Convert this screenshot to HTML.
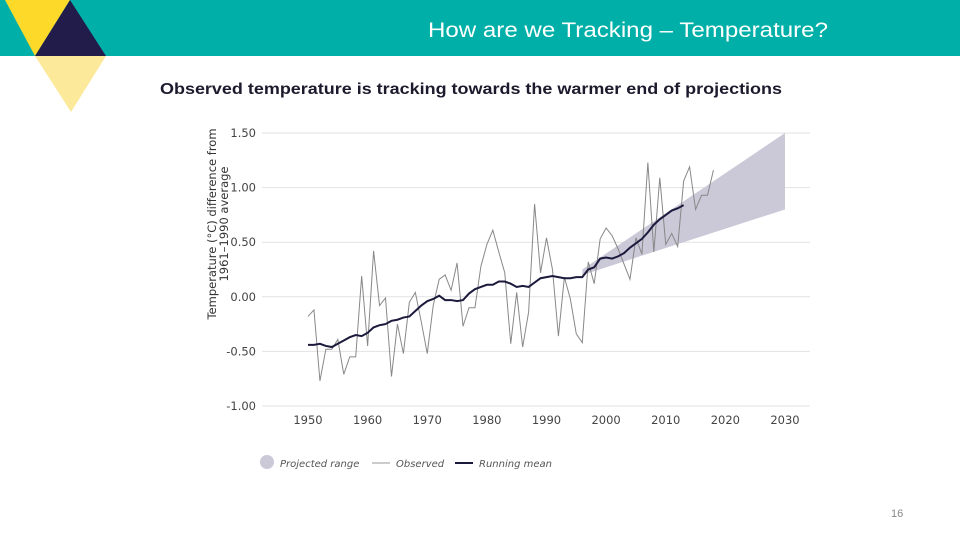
<!DOCTYPE html>
<html><head><meta charset="utf-8"><style>
body{margin:0;width:960px;height:540px;overflow:hidden;background:#fff;font-family:"Liberation Sans",sans-serif;position:relative}
.abs{position:absolute}
</style></head><body>
<svg class="abs" style="left:0;top:0" width="960" height="120">
<rect x="0" y="0" width="960" height="56" fill="#00b0a8"/>
<polygon points="5,0 70,0 35,56" fill="#fdd92a"/>
<polygon points="70,0 106,56 35,56" fill="#221c4a"/>
<polygon points="35,56 106,56 71,112" fill="#fde99a"/>
<text x="428" y="37" fill="#fff" font-size="21" textLength="400" lengthAdjust="spacingAndGlyphs" font-family="Liberation Sans, sans-serif">How are we Tracking – Temperature?</text>
<text x="160" y="94" fill="#1c1a2c" font-size="16" font-weight="bold" textLength="622" lengthAdjust="spacingAndGlyphs" font-family="Liberation Sans, sans-serif">Observed temperature is tracking towards the warmer end of projections</text>
</svg>
<svg id="chart" class="abs" style="left:0;top:120" width="960" height="360"></svg>
<div class="abs" style="left:891px;top:508px;font-size:11px;color:#888">16</div>
<script>
const yTicks=[1.5,1.0,0.5,0.0,-0.5,-1.0];
const yTickLabels=["1.50","1.00","0.50","0.00","-0.50","-1.00"];
const xTicks=[1950,1960,1970,1980,1990,2000,2010,2020,2030];
const obsStart=1950;
const observed=[-0.18,-0.12,-0.77,-0.48,-0.48,-0.39,-0.71,-0.55,-0.55,0.19,-0.45,0.42,-0.08,-0.01,-0.73,-0.25,-0.52,-0.05,0.04,-0.23,-0.52,-0.08,0.16,0.20,0.06,0.31,-0.27,-0.10,-0.10,0.28,0.48,0.61,0.41,0.22,-0.43,0.04,-0.46,-0.14,0.85,0.22,0.54,0.25,-0.36,0.18,-0.02,-0.34,-0.42,0.32,0.12,0.53,0.63,0.56,0.44,0.30,0.16,0.54,0.39,1.23,0.41,1.09,0.48,0.58,0.46,1.06,1.19,0.80,0.93,0.93,1.16];
const runningMean=[-0.44,-0.44,-0.43,-0.45,-0.46,-0.43,-0.40,-0.37,-0.35,-0.36,-0.33,-0.28,-0.26,-0.25,-0.22,-0.21,-0.19,-0.18,-0.13,-0.08,-0.04,-0.02,0.01,-0.03,-0.03,-0.04,-0.03,0.03,0.07,0.09,0.11,0.11,0.14,0.14,0.12,0.09,0.10,0.09,0.13,0.17,0.18,0.19,0.18,0.17,0.17,0.18,0.18,0.25,0.27,0.35,0.36,0.35,0.37,0.40,0.45,0.49,0.53,0.59,0.66,0.71,0.75,0.79,0.81,0.84];
const projYears=[1996,2030];
const projUpper=[0.25,1.50];
const projLower=[0.20,0.80];

const svg=document.getElementById('chart');
const NS='http://www.w3.org/2000/svg';
const x0=308,x1=785,y0=13,y1=286;
const xs=v=>x0+(v-1950)*(x1-x0)/80;
const ys=v=>y0+(1.5-v)*(y1-y0)/2.5;
function mk(tag,attrs){const e=document.createElementNS(NS,tag);for(const k in attrs)e.setAttribute(k,attrs[k]);svg.appendChild(e);return e;}
yTicks.forEach((t,i)=>{
 const l=mk('line',{x1:262,x2:810,y1:ys(t),y2:ys(t),stroke:'#e2e2e2','stroke-width':1});
 
 
 const tx=mk('text',{x:256,y:ys(t)+4,'text-anchor':'end','font-size':11.5,fill:'#444','font-family':'DejaVu Sans, sans-serif'});
 tx.textContent=yTickLabels[i];
 
 
});
xTicks.forEach(t=>{
 const tx=mk('text',{x:xs(t),y:304,'text-anchor':'middle','font-size':11.5,fill:'#444','font-family':'DejaVu Sans, sans-serif'});
 tx.textContent=t;
 
 
});
const yl=mk('text',{transform:'translate(216,104) rotate(-90)','text-anchor':'middle','font-size':11.5,fill:'#333','font-family':'DejaVu Sans, sans-serif'});
yl.innerHTML='<tspan x="0" dy="0">Temperature (°C) difference from</tspan><tspan x="0" dy="12">1961–1990 average</tspan>';


const pp=`${xs(projYears[0])},${ys(projUpper[0])} ${xs(projYears[1])},${ys(projUpper[1])} ${xs(projYears[1])},${ys(projLower[1])} ${xs(projYears[0])},${ys(projLower[0])}`;
const poly=mk('polygon',{points:pp,fill:'#cbc8d8'});


const op=mk('polyline',{points:observed.map((v,i)=>xs(obsStart+i)+','+ys(v)).join(' '),fill:'none',stroke:'#888','stroke-width':1});


const rm=mk('polyline',{points:runningMean.map((v,i)=>xs(obsStart+i)+','+ys(v)).join(' '),fill:'none',stroke:'#1c1a3c','stroke-width':2});


const lc=mk('circle',{cx:267,cy:342,r:7,fill:'#cbc8d8'});


const lo=mk('line',{x1:372,x2:390,y1:343,y2:343,stroke:'#999','stroke-width':1});


const lm=mk('line',{x1:455,x2:473,y1:343,y2:343,stroke:'#1c1a3c','stroke-width':2});


[['Projected range',280,'legend-projected-label'],['Observed',396,'legend-observed-label'],['Running mean',479,'legend-mean-label']].forEach(d=>{
 const t=mk('text',{x:d[1],y:347,'font-size':10,'font-style':'italic',fill:'#555','font-family':'DejaVu Sans, sans-serif'});
 t.textContent=d[0];
 
 
});
</script>
</body></html>
